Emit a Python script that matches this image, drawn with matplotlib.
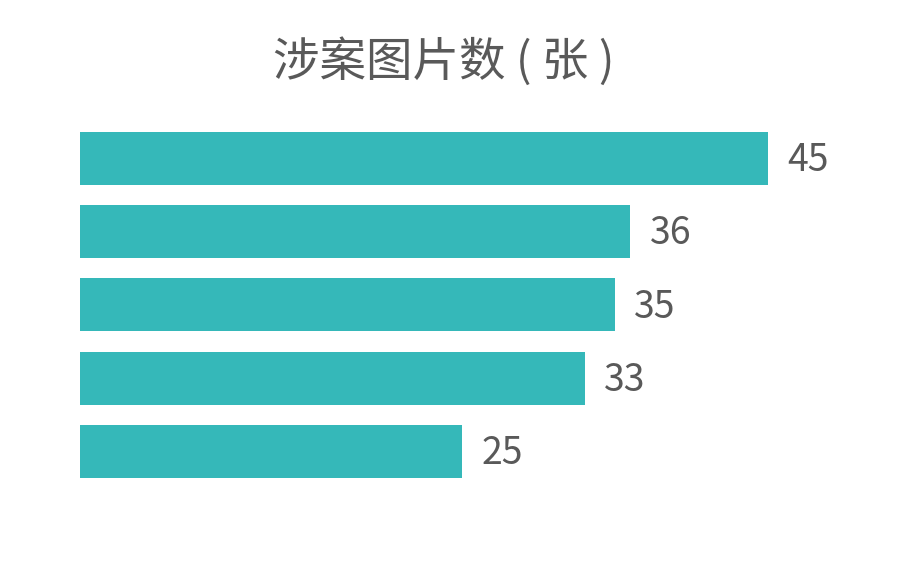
import matplotlib
matplotlib.use('Agg')
import matplotlib.pyplot as plt

plt.rcParams['font.family'] = ['Noto Sans CJK SC', 'DejaVu Sans']

title = '涉案图片数 ( 张 )'
values = [45, 36, 35, 33, 25]
bar_color = '#35B8B9'
text_color = '#595959'

fig = plt.figure(figsize=(9, 5.64), dpi=100)
ax = fig.add_axes([80 / 900, 0.1348, 820 / 900, 0.7839 - 0.1348])

pos = list(range(len(values)))
ax.barh(pos, values, height=0.725, color=bar_color)
ax.set_ylim(len(values) - 0.5, -0.5)
ax.set_xlim(0, 820 / 15.29)

for p, v in zip(pos, values):
    ax.text(v + 1.25, p + 0.03, str(v), va='center', ha='left',
            fontsize=27, color=text_color)

ax.axis('off')
fig.text(444 / 900, 1 - 62 / 564, title, ha='center', va='center',
         fontsize=33.5, color=text_color)

fig.savefig('out.png', dpi=100)
